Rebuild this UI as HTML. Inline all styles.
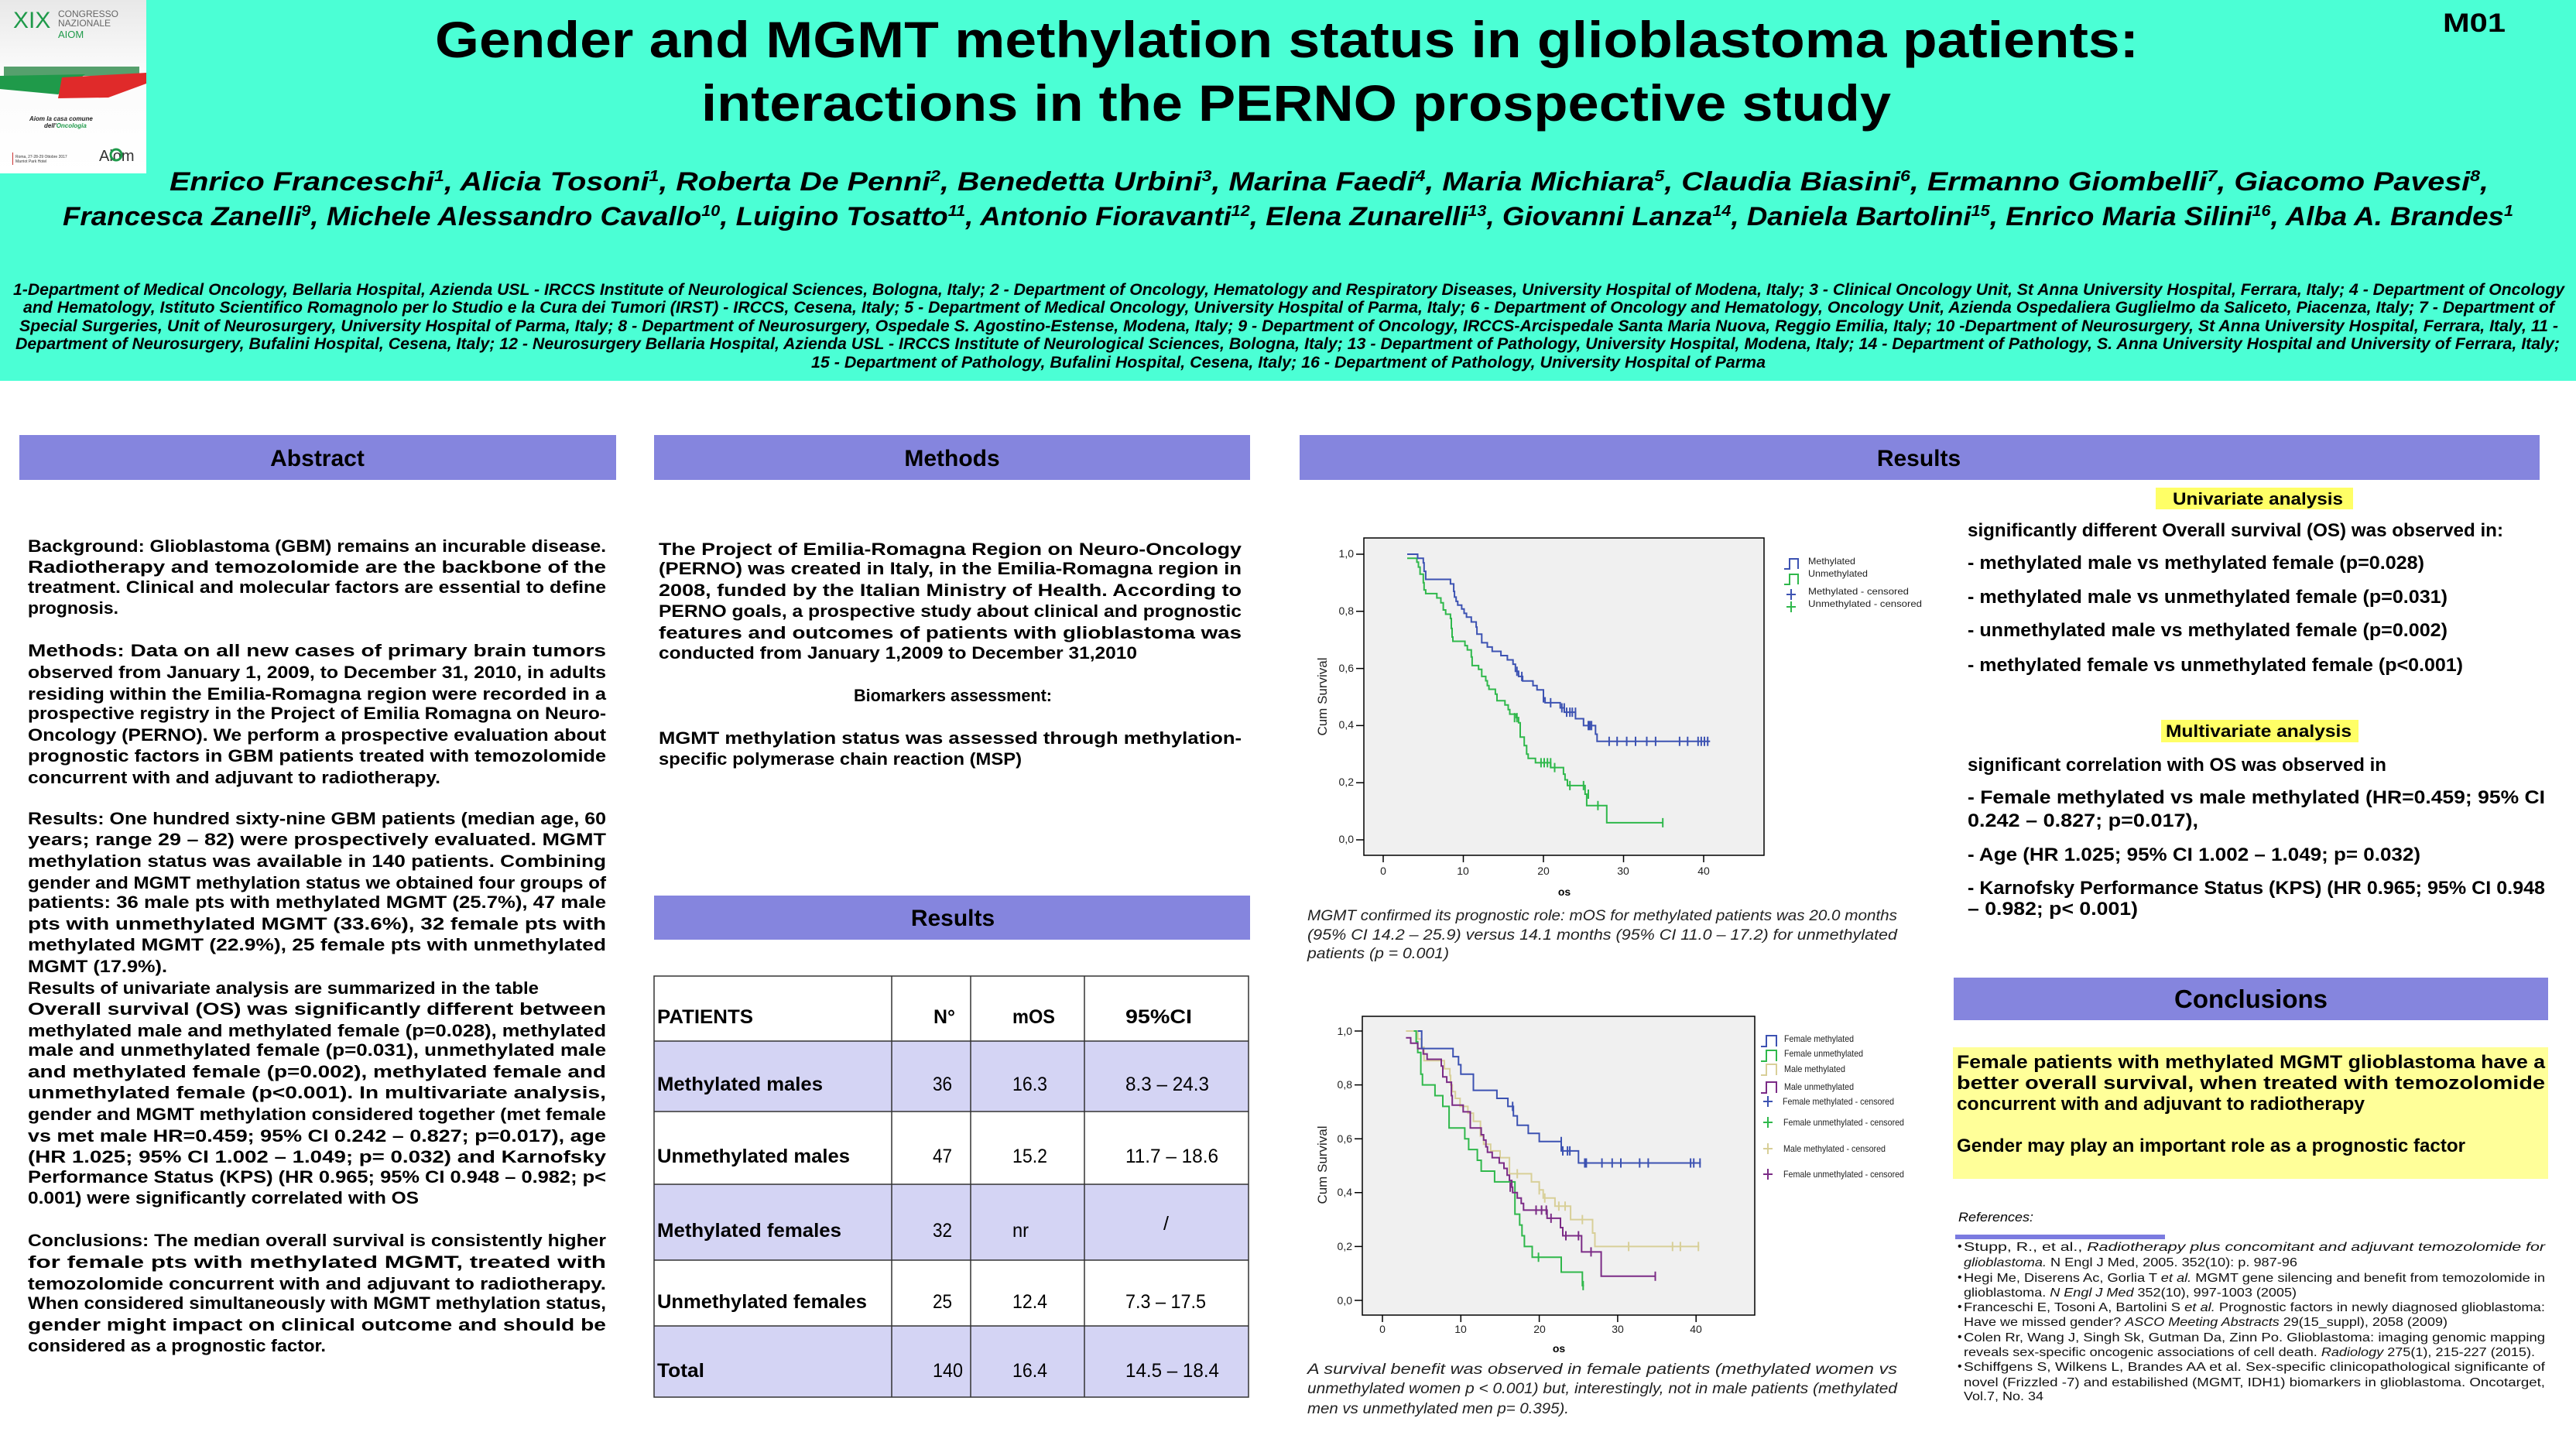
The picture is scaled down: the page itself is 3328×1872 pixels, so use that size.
<!DOCTYPE html>
<html><head><meta charset="utf-8"><style>
html,body{margin:0;padding:0;background:#fff;}
svg{display:block;}
text{font-family:"Liberation Sans",Arial,sans-serif;}
.b{font-weight:bold;}
.bi{font-weight:bold;font-style:italic;}
.ab{font-weight:bold;font-size:22px;fill:#000;}
.rc{font-weight:bold;font-size:24px;}
.cap{font-style:italic;font-size:19px;fill:#222;}
.ref{font-size:16px;fill:#111;}
.tk{font-size:14px;fill:#222;}
.lg{font-size:12px;fill:#222;}
.tb{font-weight:bold;font-size:25px;}
.tn{font-size:25px;}
</style></head><body>
<svg width="3328" height="1872" viewBox="0 0 3328 1872" xmlns="http://www.w3.org/2000/svg">
<rect x="0" y="0" width="3328" height="1872" fill="#fff"/>
<rect x="0" y="0" width="3328" height="492" fill="#4bffd5"/>

<!-- logo -->
<defs><linearGradient id="lg1" x1="0" y1="0" x2="0" y2="1"><stop offset="0" stop-color="#e8e8e8"/><stop offset="0.4" stop-color="#fbfbfb"/><stop offset="1" stop-color="#ffffff"/></linearGradient></defs>
<rect x="0" y="0" width="189" height="224" fill="url(#lg1)"/>
<text x="17" y="36" font-size="30" fill="#1f9a4a">XIX</text>
<text x="75" y="22" font-size="12" fill="#666" font-family="Liberation Serif,serif">CONGRESSO</text>
<text x="75" y="34" font-size="12" fill="#666" font-family="Liberation Serif,serif">NAZIONALE</text>
<text x="75" y="49" font-size="13" fill="#1f9a4a" font-family="Liberation Serif,serif">AIOM</text>
<rect x="5" y="86" width="175" height="12" fill="#2d8a4a" opacity="0.8"/>
<polygon points="0,98 110,96 75,122 0,115" fill="#1f9a4a"/>
<polygon points="80,100 189,94 189,108 140,126 75,127" fill="#e02a2a"/>
<text x="38" y="156" font-size="8" class="bi" fill="#222">Aiom la casa comune</text>
<text x="57" y="165" font-size="8" class="bi" fill="#222">dell'<tspan fill="#1f9a4a">Oncologia</tspan></text>
<rect x="16" y="197" width="1" height="16" fill="#c33"/>
<text x="20" y="204" font-size="5" fill="#333">Roma, 27-28-29 Ottobre 2017</text>
<text x="20" y="210" font-size="5" fill="#333">Marriot Park Hotel</text>
<text x="128" y="208" font-size="20" fill="#333" font-family="Liberation Serif,serif">Aiom</text>
<ellipse cx="150" cy="200" rx="7" ry="7" fill="none" stroke="#1f9a4a" stroke-width="3"/>

<!-- title -->
<text x="562" y="74" font-size="66" class="b" textLength="2201" lengthAdjust="spacingAndGlyphs">Gender and MGMT methylation status in glioblastoma patients:</text>
<text x="906" y="156" font-size="66" class="b" textLength="1537" lengthAdjust="spacingAndGlyphs">interactions in the PERNO prospective study</text>
<text x="3156" y="41" font-size="34" class="b" textLength="81" lengthAdjust="spacingAndGlyphs">M01</text>

<!-- authors -->
<text x="219" y="246" font-size="34" class="bi" textLength="2996" lengthAdjust="spacingAndGlyphs">Enrico Franceschi<tspan font-size="20" dy="-12">1</tspan><tspan dy="12">, Alicia Tosoni</tspan><tspan font-size="20" dy="-12">1</tspan><tspan dy="12">, Roberta De Penni</tspan><tspan font-size="20" dy="-12">2</tspan><tspan dy="12">, Benedetta Urbini</tspan><tspan font-size="20" dy="-12">3</tspan><tspan dy="12">, Marina Faedi</tspan><tspan font-size="20" dy="-12">4</tspan><tspan dy="12">, Maria Michiara</tspan><tspan font-size="20" dy="-12">5</tspan><tspan dy="12">, Claudia Biasini</tspan><tspan font-size="20" dy="-12">6</tspan><tspan dy="12">, Ermanno Giombelli</tspan><tspan font-size="20" dy="-12">7</tspan><tspan dy="12">, Giacomo Pavesi</tspan><tspan font-size="20" dy="-12">8</tspan><tspan dy="12">,</tspan></text>
<text x="81" y="291" font-size="34" class="bi" textLength="3166" lengthAdjust="spacingAndGlyphs">Francesca Zanelli<tspan font-size="20" dy="-12">9</tspan><tspan dy="12">, Michele Alessandro Cavallo</tspan><tspan font-size="20" dy="-12">10</tspan><tspan dy="12">, Luigino Tosatto</tspan><tspan font-size="20" dy="-12">11</tspan><tspan dy="12">, Antonio Fioravanti</tspan><tspan font-size="20" dy="-12">12</tspan><tspan dy="12">, Elena Zunarelli</tspan><tspan font-size="20" dy="-12">13</tspan><tspan dy="12">, Giovanni Lanza</tspan><tspan font-size="20" dy="-12">14</tspan><tspan dy="12">, Daniela Bartolini</tspan><tspan font-size="20" dy="-12">15</tspan><tspan dy="12">, Enrico Maria Silini</tspan><tspan font-size="20" dy="-12">16</tspan><tspan dy="12">,  Alba A. Brandes</tspan><tspan font-size="20" dy="-12">1</tspan></text>

<!-- affiliations -->
<g class="bi" font-size="21">
<text x="17" y="381" textLength="3296" lengthAdjust="spacingAndGlyphs">1-Department of Medical Oncology, Bellaria Hospital, Azienda USL - IRCCS Institute of Neurological Sciences, Bologna, Italy; 2 - Department of Oncology, Hematology and Respiratory Diseases, University Hospital of Modena, Italy; 3 - Clinical Oncology Unit, St Anna University Hospital, Ferrara, Italy; 4 - Department of Oncology</text>
<text x="30" y="404" textLength="3270" lengthAdjust="spacingAndGlyphs">and Hematology, Istituto Scientifico Romagnolo per lo Studio e la Cura dei Tumori (IRST) - IRCCS, Cesena, Italy; 5 - Department of Medical Oncology, University Hospital of Parma, Italy; 6 - Department of Oncology and Hematology, Oncology Unit, Azienda Ospedaliera Guglielmo da Saliceto, Piacenza, Italy; 7 - Department of</text>
<text x="25" y="428" textLength="3280" lengthAdjust="spacingAndGlyphs">Special Surgeries, Unit of Neurosurgery, University Hospital of Parma, Italy; 8 - Department of Neurosurgery, Ospedale S. Agostino-Estense, Modena, Italy; 9 - Department of Oncology, IRCCS-Arcispedale Santa Maria Nuova, Reggio Emilia, Italy; 10 -Department of Neurosurgery, St Anna University Hospital, Ferrara, Italy, 11 -</text>
<text x="20" y="451" textLength="3287" lengthAdjust="spacingAndGlyphs">Department of Neurosurgery, Bufalini Hospital, Cesena, Italy; 12 - Neurosurgery Bellaria Hospital, Azienda USL - IRCCS Institute of Neurological Sciences, Bologna, Italy; 13 - Department of Pathology, University Hospital, Modena, Italy; 14 - Department of Pathology, S. Anna University Hospital and University of Ferrara, Italy;</text>
<text x="1048" y="475" textLength="1233" lengthAdjust="spacingAndGlyphs">15 - Department of Pathology, Bufalini Hospital, Cesena, Italy; 16 - Department of Pathology, University Hospital of Parma</text>
</g>

<!-- section bars -->
<g fill="#8585de">
<rect x="25" y="562" width="771" height="58"/>
<rect x="845" y="562" width="770" height="58"/>
<rect x="1679" y="562" width="1602" height="58"/>
<rect x="845" y="1157" width="770" height="57"/>
<rect x="2524" y="1263" width="768" height="55"/>
</g>
<g class="b" font-size="30" text-anchor="middle">
<text x="410" y="602">Abstract</text>
<text x="1230" y="602">Methods</text>
<text x="2479" y="602">Results</text>
<text x="1231" y="1196">Results</text>
<text x="2908" y="1302" font-size="33">Conclusions</text>
</g>

<!-- abstract -->
<g class="ab">
<text x="36" y="713" textLength="747" lengthAdjust="spacingAndGlyphs">Background: Glioblastoma (GBM) remains an incurable disease.</text>
<text x="36" y="740" textLength="747" lengthAdjust="spacingAndGlyphs">Radiotherapy and temozolomide are the backbone of the</text>
<text x="36" y="766" textLength="747" lengthAdjust="spacingAndGlyphs">treatment. Clinical and molecular factors are essential to define</text>
<text x="36" y="793" textLength="117" lengthAdjust="spacingAndGlyphs">prognosis.</text>
<text x="36" y="848" textLength="747" lengthAdjust="spacingAndGlyphs">Methods: Data on all new cases of primary brain tumors</text>
<text x="36" y="876" textLength="747" lengthAdjust="spacingAndGlyphs">observed from January 1, 2009, to December 31, 2010, in adults</text>
<text x="36" y="904" textLength="747" lengthAdjust="spacingAndGlyphs">residing within the Emilia-Romagna region were recorded in a</text>
<text x="36" y="929" textLength="747" lengthAdjust="spacingAndGlyphs">prospective registry in the Project of Emilia Romagna on Neuro-</text>
<text x="36" y="957" textLength="747" lengthAdjust="spacingAndGlyphs">Oncology (PERNO). We perform a prospective evaluation about</text>
<text x="36" y="984" textLength="747" lengthAdjust="spacingAndGlyphs">prognostic factors in GBM patients treated with temozolomide</text>
<text x="36" y="1012" textLength="533" lengthAdjust="spacingAndGlyphs">concurrent with and adjuvant to radiotherapy.</text>
<text x="36" y="1065" textLength="747" lengthAdjust="spacingAndGlyphs">Results: One hundred sixty-nine GBM patients (median age, 60</text>
<text x="36" y="1092" textLength="747" lengthAdjust="spacingAndGlyphs">years; range 29 – 82) were prospectively evaluated. MGMT</text>
<text x="36" y="1120" textLength="747" lengthAdjust="spacingAndGlyphs">methylation status was available in 140 patients. Combining</text>
<text x="36" y="1148" textLength="747" lengthAdjust="spacingAndGlyphs">gender and MGMT methylation status we obtained four groups of</text>
<text x="36" y="1173" textLength="747" lengthAdjust="spacingAndGlyphs">patients: 36 male pts with methylated MGMT (25.7%), 47 male</text>
<text x="36" y="1201" textLength="747" lengthAdjust="spacingAndGlyphs">pts with unmethylated MGMT (33.6%), 32 female pts with</text>
<text x="36" y="1228" textLength="747" lengthAdjust="spacingAndGlyphs">methylated MGMT (22.9%), 25 female pts with unmethylated</text>
<text x="36" y="1256" textLength="180" lengthAdjust="spacingAndGlyphs">MGMT (17.9%).</text>
<text x="36" y="1284" textLength="660" lengthAdjust="spacingAndGlyphs">Results of univariate analysis are summarized in the table</text>
<text x="36" y="1311" textLength="747" lengthAdjust="spacingAndGlyphs">Overall survival (OS) was significantly different between</text>
<text x="36" y="1339" textLength="747" lengthAdjust="spacingAndGlyphs">methylated male and methylated female (p=0.028), methylated</text>
<text x="36" y="1364" textLength="747" lengthAdjust="spacingAndGlyphs">male and unmethylated female (p=0.031), unmethylated male</text>
<text x="36" y="1392" textLength="747" lengthAdjust="spacingAndGlyphs">and methylated female (p=0.002), methylated female and</text>
<text x="36" y="1419" textLength="747" lengthAdjust="spacingAndGlyphs">unmethylated female (p&lt;0.001).     In multivariate analysis,</text>
<text x="36" y="1447" textLength="747" lengthAdjust="spacingAndGlyphs">gender and MGMT methylation considered together (met female</text>
<text x="36" y="1475" textLength="747" lengthAdjust="spacingAndGlyphs">vs met male HR=0.459; 95% CI 0.242 – 0.827;  p=0.017), age</text>
<text x="36" y="1502" textLength="747" lengthAdjust="spacingAndGlyphs">(HR 1.025; 95% CI 1.002 – 1.049; p= 0.032) and Karnofsky</text>
<text x="36" y="1528" textLength="747" lengthAdjust="spacingAndGlyphs">Performance Status (KPS) (HR 0.965; 95% CI 0.948 – 0.982; p&lt;</text>
<text x="36" y="1555" textLength="505" lengthAdjust="spacingAndGlyphs">0.001) were significantly correlated with OS</text>
<text x="36" y="1610" textLength="747" lengthAdjust="spacingAndGlyphs">Conclusions: The median overall survival is consistently higher</text>
<text x="36" y="1638" textLength="747" lengthAdjust="spacingAndGlyphs">for female pts with methylated MGMT, treated with</text>
<text x="36" y="1666" textLength="747" lengthAdjust="spacingAndGlyphs">temozolomide concurrent with and adjuvant to radiotherapy.</text>
<text x="36" y="1691" textLength="747" lengthAdjust="spacingAndGlyphs">When considered simultaneously with MGMT methylation status,</text>
<text x="36" y="1719" textLength="747" lengthAdjust="spacingAndGlyphs">gender might impact on clinical outcome and should be</text>
<text x="36" y="1746" textLength="385" lengthAdjust="spacingAndGlyphs">considered as a prognostic factor.</text>
</g>

<!-- methods -->
<g class="ab">
<text x="851" y="717" textLength="753" lengthAdjust="spacingAndGlyphs">The Project of Emilia-Romagna Region on Neuro-Oncology</text>
<text x="851" y="742" textLength="753" lengthAdjust="spacingAndGlyphs">(PERNO) was created in Italy, in the Emilia-Romagna region in</text>
<text x="851" y="770" textLength="753" lengthAdjust="spacingAndGlyphs">2008, funded by the Italian Ministry of Health. According to</text>
<text x="851" y="797" textLength="753" lengthAdjust="spacingAndGlyphs">PERNO goals, a prospective study about clinical and prognostic</text>
<text x="851" y="825" textLength="753" lengthAdjust="spacingAndGlyphs">features and outcomes of patients with glioblastoma was</text>
<text x="851" y="851" textLength="618" lengthAdjust="spacingAndGlyphs">conducted from January 1,2009 to December 31,2010</text>
<text x="1231" y="906" text-anchor="middle" textLength="256" lengthAdjust="spacingAndGlyphs">Biomarkers assessment:</text>
<text x="851" y="961" textLength="753" lengthAdjust="spacingAndGlyphs">MGMT methylation status was assessed through methylation-</text>
<text x="851" y="988" textLength="469" lengthAdjust="spacingAndGlyphs">specific polymerase chain reaction (MSP)</text>
</g>

<!-- table -->
<rect x="845" y="1345" width="768" height="91" fill="#d4d4f4"/>
<rect x="845" y="1530" width="768" height="98" fill="#d4d4f4"/>
<rect x="845" y="1713" width="768" height="92" fill="#d4d4f4"/>
<g stroke="#333" stroke-width="1.5" fill="none">
<rect x="845" y="1261" width="768" height="544"/>
<line x1="845" y1="1345" x2="1613" y2="1345"/>
<line x1="845" y1="1436" x2="1613" y2="1436"/>
<line x1="845" y1="1530" x2="1613" y2="1530"/>
<line x1="845" y1="1628" x2="1613" y2="1628"/>
<line x1="845" y1="1713" x2="1613" y2="1713"/>
<line x1="1152" y1="1261" x2="1152" y2="1805"/>
<line x1="1254" y1="1261" x2="1254" y2="1805"/>
<line x1="1401" y1="1261" x2="1401" y2="1805"/>
</g>
<g>
<text class="tb" x="849" y="1322" textLength="124" lengthAdjust="spacingAndGlyphs">PATIENTS</text>
<text class="tb" x="1206" y="1322" textLength="28" lengthAdjust="spacingAndGlyphs">N°</text>
<text class="tb" x="1308" y="1322" textLength="55" lengthAdjust="spacingAndGlyphs">mOS</text>
<text class="tb" x="1454" y="1322" textLength="86" lengthAdjust="spacingAndGlyphs">95%CI</text>
<text class="tb" x="849" y="1409" textLength="214" lengthAdjust="spacingAndGlyphs">Methylated males</text>
<text class="tn" x="1205" y="1409" textLength="25" lengthAdjust="spacingAndGlyphs">36</text>
<text class="tn" x="1308" y="1409" textLength="45" lengthAdjust="spacingAndGlyphs">16.3</text>
<text class="tn" x="1454" y="1409" textLength="108" lengthAdjust="spacingAndGlyphs">8.3 – 24.3</text>
<text class="tb" x="849" y="1502" textLength="249" lengthAdjust="spacingAndGlyphs">Unmethylated males</text>
<text class="tn" x="1205" y="1502" textLength="25" lengthAdjust="spacingAndGlyphs">47</text>
<text class="tn" x="1308" y="1502" textLength="45" lengthAdjust="spacingAndGlyphs">15.2</text>
<text class="tn" x="1454" y="1502" textLength="120" lengthAdjust="spacingAndGlyphs">11.7 – 18.6</text>
<text class="tb" x="849" y="1598" textLength="238" lengthAdjust="spacingAndGlyphs">Methylated females</text>
<text class="tn" x="1205" y="1598" textLength="25" lengthAdjust="spacingAndGlyphs">32</text>
<text class="tn" x="1308" y="1598" textLength="21" lengthAdjust="spacingAndGlyphs">nr</text>
<text class="tn" x="1503" y="1589">/</text>
<text class="tb" x="849" y="1690" textLength="271" lengthAdjust="spacingAndGlyphs">Unmethylated females</text>
<text class="tn" x="1205" y="1690" textLength="25" lengthAdjust="spacingAndGlyphs">25</text>
<text class="tn" x="1308" y="1690" textLength="45" lengthAdjust="spacingAndGlyphs">12.4</text>
<text class="tn" x="1454" y="1690" textLength="104" lengthAdjust="spacingAndGlyphs">7.3 – 17.5</text>
<text class="tb" x="849" y="1779" textLength="61" lengthAdjust="spacingAndGlyphs">Total</text>
<text class="tn" x="1205" y="1779" textLength="39" lengthAdjust="spacingAndGlyphs">140</text>
<text class="tn" x="1308" y="1779" textLength="45" lengthAdjust="spacingAndGlyphs">16.4</text>
<text class="tn" x="1454" y="1779" textLength="121" lengthAdjust="spacingAndGlyphs">14.5 – 18.4</text>
</g>

<!-- chart 1 -->
<rect x="1762" y="695" width="517" height="410" fill="#f0f0f0" stroke="#000" stroke-width="1.5"/>
<g id="ax1" stroke="#000" stroke-width="1.5"></g>
<g class="tk" text-anchor="end">
<text x="1749" y="720">1,0</text><text x="1749" y="794">0,8</text><text x="1749" y="868">0,6</text><text x="1749" y="941">0,4</text><text x="1749" y="1015">0,2</text><text x="1749" y="1089">0,0</text>
</g>
<g class="tk" text-anchor="middle">
<text x="1787" y="1130">0</text><text x="1890" y="1130">10</text><text x="1994" y="1130">20</text><text x="2097" y="1130">30</text><text x="2201" y="1130">40</text>
</g>
<text x="2021" y="1157" class="b" font-size="14" text-anchor="middle">os</text>
<text transform="translate(1714,900) rotate(-90)" font-size="17" text-anchor="middle" fill="#222">Cum Survival</text>
<g id="c1"></g>
<g class="lg">
<text x="2336" y="729" textLength="61" lengthAdjust="spacingAndGlyphs">Methylated</text>
<text x="2336" y="745" textLength="77" lengthAdjust="spacingAndGlyphs">Unmethylated</text>
<text x="2336" y="768" textLength="130" lengthAdjust="spacingAndGlyphs">Methylated  - censored</text>
<text x="2336" y="784" textLength="147" lengthAdjust="spacingAndGlyphs">Unmethylated  - censored</text>
</g>
<g fill="none" stroke-width="2">
<path d="M2305,735 H2312 V722 H2323 V735" stroke="#3c52b2"/>
<path d="M2305,755 H2312 V742 H2323 V755" stroke="#2fb84b"/>
<path d="M2314,761 V775 M2308,768 H2320" stroke="#3c52b2"/>
<path d="M2314,777 V791 M2308,784 H2320" stroke="#2fb84b"/>
</g>
<g class="cap">
<text x="1689" y="1189" textLength="762" lengthAdjust="spacingAndGlyphs">MGMT confirmed its prognostic role: mOS for methylated patients was 20.0 months</text>
<text x="1689" y="1214" textLength="762" lengthAdjust="spacingAndGlyphs">(95% CI 14.2 – 25.9) versus 14.1 months (95% CI 11.0 – 17.2) for unmethylated</text>
<text x="1689" y="1238" textLength="183" lengthAdjust="spacingAndGlyphs">patients (p = 0.001)</text>
</g>

<!-- chart 2 -->
<rect x="1760" y="1313" width="507" height="386" fill="#f0f0f0" stroke="#000" stroke-width="1.5"/>
<g id="ax2" stroke="#000" stroke-width="1.5"></g>
<g class="tk" text-anchor="end">
<text x="1747" y="1337">1,0</text><text x="1747" y="1406">0,8</text><text x="1747" y="1476">0,6</text><text x="1747" y="1545">0,4</text><text x="1747" y="1615">0,2</text><text x="1747" y="1685">0,0</text>
</g>
<g class="tk" text-anchor="middle">
<text x="1786" y="1722">0</text><text x="1887" y="1722">10</text><text x="1989" y="1722">20</text><text x="2090" y="1722">30</text><text x="2191" y="1722">40</text>
</g>
<text x="2014" y="1747" class="b" font-size="14" text-anchor="middle">os</text>
<text transform="translate(1714,1505) rotate(-90)" font-size="17" text-anchor="middle" fill="#222">Cum Survival</text>
<g id="c2"></g>
<g class="lg" font-size="11">
<text x="2305" y="1346" textLength="90" lengthAdjust="spacingAndGlyphs">Female methylated</text>
<text x="2305" y="1365" textLength="102" lengthAdjust="spacingAndGlyphs">Female unmethylated</text>
<text x="2305" y="1385" textLength="79" lengthAdjust="spacingAndGlyphs">Male methylated</text>
<text x="2305" y="1408" textLength="90" lengthAdjust="spacingAndGlyphs">Male unmethylated</text>
<text x="2303" y="1427" textLength="144" lengthAdjust="spacingAndGlyphs">Female methylated - censored</text>
<text x="2304" y="1454" textLength="156" lengthAdjust="spacingAndGlyphs">Female unmethylated - censored</text>
<text x="2304" y="1488" textLength="132" lengthAdjust="spacingAndGlyphs">Male methylated - censored</text>
<text x="2304" y="1521" textLength="156" lengthAdjust="spacingAndGlyphs">Female unmethylated - censored</text>
</g>
<g fill="none" stroke-width="2">
<path d="M2275,1352 H2282 V1338 H2295 V1352" stroke="#3c52b2"/>
<path d="M2275,1371 H2282 V1357 H2295 V1371" stroke="#2fb84b"/>
<path d="M2275,1389 H2282 V1375 H2295 V1389" stroke="#d8cf98"/>
<path d="M2275,1412 H2282 V1398 H2295 V1412" stroke="#7b2b86"/>
<path d="M2284,1416 V1430 M2278,1423 H2290" stroke="#3c52b2"/>
<path d="M2284,1443 V1457 M2278,1450 H2290" stroke="#2fb84b"/>
<path d="M2284,1477 V1491 M2278,1484 H2290" stroke="#d8cf98"/>
<path d="M2284,1510 V1524 M2278,1517 H2290" stroke="#7b2b86"/>
</g>
<g class="cap">
<text x="1689" y="1775" textLength="762" lengthAdjust="spacingAndGlyphs">A survival benefit was observed in female patients (methylated women vs</text>
<text x="1689" y="1800" textLength="762" lengthAdjust="spacingAndGlyphs">unmethylated women p &lt; 0.001) but, interestingly, not in male patients (methylated</text>
<text x="1689" y="1826" textLength="338" lengthAdjust="spacingAndGlyphs">men vs unmethylated men p= 0.395).</text>
</g>

<!-- right column -->
<rect x="2785" y="630" width="255" height="28" fill="#ffff66"/>
<rect x="2792" y="930" width="255" height="29" fill="#ffff66"/>
<g class="rc">
<text x="2807" y="652" textLength="220" lengthAdjust="spacingAndGlyphs" font-size="22">Univariate analysis</text>
<text x="2542" y="693" textLength="692" lengthAdjust="spacingAndGlyphs">significantly different Overall survival (OS) was observed in:</text>
<text x="2542" y="735" textLength="590" lengthAdjust="spacingAndGlyphs">- methylated male vs methylated female (p=0.028)</text>
<text x="2542" y="779" textLength="620" lengthAdjust="spacingAndGlyphs">- methylated male vs unmethylated female (p=0.031)</text>
<text x="2542" y="822" textLength="620" lengthAdjust="spacingAndGlyphs">- unmethylated male vs methylated female (p=0.002)</text>
<text x="2542" y="867" textLength="640" lengthAdjust="spacingAndGlyphs">- methylated female vs unmethylated female (p&lt;0.001)</text>
<text x="2798" y="952" textLength="240" lengthAdjust="spacingAndGlyphs" font-size="22">Multivariate analysis</text>
<text x="2542" y="996" textLength="541" lengthAdjust="spacingAndGlyphs">significant correlation with OS was observed in</text>
<text x="2542" y="1038" textLength="746" lengthAdjust="spacingAndGlyphs">- Female methylated vs male methylated (HR=0.459; 95% CI</text>
<text x="2542" y="1068" textLength="298" lengthAdjust="spacingAndGlyphs">0.242 – 0.827;  p=0.017),</text>
<text x="2542" y="1112" textLength="585" lengthAdjust="spacingAndGlyphs">- Age (HR 1.025; 95% CI 1.002 – 1.049; p= 0.032)</text>
<text x="2542" y="1155" textLength="746" lengthAdjust="spacingAndGlyphs">- Karnofsky Performance Status (KPS) (HR 0.965; 95% CI 0.948</text>
<text x="2542" y="1182" textLength="220" lengthAdjust="spacingAndGlyphs">– 0.982; p&lt; 0.001)</text>
</g>

<rect x="2523" y="1353" width="769" height="170" fill="#ffff99"/>
<g class="rc" font-size="25">
<text x="2528" y="1380" textLength="760" lengthAdjust="spacingAndGlyphs">Female patients with methylated MGMT glioblastoma have a</text>
<text x="2528" y="1407" textLength="760" lengthAdjust="spacingAndGlyphs">better overall survival, when treated with temozolomide</text>
<text x="2528" y="1434" textLength="527" lengthAdjust="spacingAndGlyphs">concurrent with and adjuvant to radiotherapy</text>
<text x="2528" y="1488" textLength="657" lengthAdjust="spacingAndGlyphs">Gender may play an important role as a prognostic factor</text>
</g>

<text x="2530" y="1578" font-size="17" font-style="italic" textLength="97" lengthAdjust="spacingAndGlyphs">References:</text>
<rect x="2526" y="1595" width="271" height="6" fill="#7b7be0"/>
<g class="ref">
<text x="2529" y="1615">•</text><text x="2537" y="1616" textLength="751" lengthAdjust="spacingAndGlyphs">Stupp, R., et al., <tspan font-style="italic">Radiotherapy plus concomitant and adjuvant temozolomide for</tspan></text>
<text x="2537" y="1636" textLength="431" lengthAdjust="spacingAndGlyphs"><tspan font-style="italic">glioblastoma.</tspan> N Engl J Med, 2005. 352(10): p. 987-96</text>
<text x="2529" y="1655">•</text><text x="2537" y="1656" textLength="751" lengthAdjust="spacingAndGlyphs">Hegi Me, Diserens Ac, Gorlia T <tspan font-style="italic">et al.</tspan> MGMT gene silencing and benefit from temozolomide in</text>
<text x="2537" y="1675" textLength="430" lengthAdjust="spacingAndGlyphs">glioblastoma. <tspan font-style="italic">N Engl J Med</tspan> 352(10), 997-1003 (2005)</text>
<text x="2529" y="1693">•</text><text x="2537" y="1694" textLength="751" lengthAdjust="spacingAndGlyphs">Franceschi E, Tosoni A, Bartolini S <tspan font-style="italic">et al.</tspan> Prognostic factors in newly diagnosed glioblastoma:</text>
<text x="2537" y="1713" textLength="625" lengthAdjust="spacingAndGlyphs">Have we missed gender? <tspan font-style="italic">ASCO Meeting Abstracts</tspan> 29(15_suppl), 2058 (2009)</text>
<text x="2529" y="1732">•</text><text x="2537" y="1733" textLength="751" lengthAdjust="spacingAndGlyphs">Colen Rr, Wang J, Singh Sk, Gutman Da, Zinn Po. Glioblastoma: imaging genomic mapping</text>
<text x="2537" y="1752" textLength="738" lengthAdjust="spacingAndGlyphs">reveals sex-specific oncogenic associations of cell death. <tspan font-style="italic">Radiology</tspan> 275(1), 215-227 (2015).</text>
<text x="2529" y="1770">•</text><text x="2537" y="1771" textLength="751" lengthAdjust="spacingAndGlyphs">Schiffgens S, Wilkens L, Brandes AA et al. Sex-specific clinicopathological significante of</text>
<text x="2537" y="1791" textLength="751" lengthAdjust="spacingAndGlyphs">novel (Frizzled -7) and estabilished (MGMT, IDH1) biomarkers in glioblastoma. Oncotarget,</text>
<text x="2537" y="1809" textLength="103" lengthAdjust="spacingAndGlyphs">Vol.7, No. 34</text>
</g>
</svg>
<script>
(function(){
var NS="http://www.w3.org/2000/svg";
function el(p,tag,attrs){var e=document.createElementNS(NS,tag);for(var k in attrs)e.setAttribute(k,attrs[k]);p.appendChild(e);return e;}
function chart(gid,axid,x0,sx,y0,sy,box,series){
  var g=document.getElementById(gid),ax=document.getElementById(axid);
  var d="";
  [0,.2,.4,.6,.8,1].forEach(function(v){var y=y0-v*sy;d+="M"+(box.l-10)+","+y+"H"+box.l;});
  [0,10,20,30,40].forEach(function(t){var x=x0+t*sx;d+="M"+x+","+box.b+"V"+(box.b+9);});
  el(ax,"path",{d:d});
  series.forEach(function(s){
    var p=s.pts,X=function(t){return (x0+t*sx).toFixed(1)},Y=function(v){return (y0-v*sy).toFixed(1)};
    var dd="M"+X(p[0][0])+","+Y(p[0][1]);
    for(var i=1;i<p.length;i++){dd+="H"+X(p[i][0])+"V"+Y(p[i][1]);}
    dd+="H"+X(s.end);
    el(g,"path",{d:dd,fill:"none",stroke:s.c,"stroke-width":2});
    var cd="";
    s.cens.forEach(function(c){var x=+X(c[0]),y=+Y(c[1]);cd+="M"+x+","+(y-6)+"V"+(y+6);});
    el(g,"path",{d:cd,fill:"none",stroke:s.c,"stroke-width":2});
  });
}
var B="#3c52b2",G="#2fb84b",Be="#d8cf98",P="#7b2b86";
chart("c1","ax1",1787,10.35,1085,369,{l:1762,b:1105},[
 {c:G,end:34.9,pts:[[3,.986],[4.2,.972],[4.4,.955],[4.6,.93],[5,.9],[5.1,.875],[5.3,.862],[6.7,.847],[7.2,.83],[7.5,.805],[7.8,.79],[8.4,.775],[8.5,.74],[8.6,.71],[8.7,.695],[10.2,.68],[10.5,.665],[11,.64],[11.1,.61],[11.9,.597],[12.3,.572],[12.8,.557],[13,.54],[13.2,.527],[14,.51],[14.2,.487],[15.2,.472],[15.6,.456],[15.8,.44],[16.6,.428],[16.9,.41],[17.1,.36],[17.6,.33],[17.9,.3],[18.1,.285],[19,.27],[20.9,.253],[22.5,.23],[22.7,.21],[23,.19],[25.2,.16],[25.4,.12],[27.9,.06]],
  cens:[[16.4,.428],[16.7,.428],[19.7,.27],[20.1,.27],[20.5,.27],[20.9,.27],[21.4,.253],[23.3,.19],[25,.19],[25.6,.16],[26.8,.12],[34.9,.06]]},
 {c:B,end:40.8,pts:[[3,1],[4.3,.986],[5,.97],[5.1,.94],[5.3,.912],[8.4,.896],[8.8,.87],[8.9,.85],[9.1,.835],[9.3,.822],[9.8,.808],[10.1,.793],[10.4,.78],[11,.763],[11.6,.745],[11.7,.72],[12.3,.69],[13,.675],[13.6,.66],[14.7,.645],[15.5,.63],[16.2,.615],[16.5,.59],[16.9,.572],[17.4,.556],[18.7,.54],[19.2,.525],[20,.497],[20.2,.48],[22.1,.462],[22.6,.447],[24,.424],[25,.40],[26.5,.37],[26.7,.345]],
  cens:[[16.7,.59],[17.3,.572],[20,.497],[20.9,.48],[22.3,.462],[22.6,.462],[22.9,.447],[23.3,.447],[23.6,.447],[24,.447],[25.6,.40],[25.8,.40],[26,.40],[28.2,.345],[29.2,.345],[30.4,.345],[31.5,.345],[32.9,.345],[34,.345],[37,.345],[38,.345],[39.3,.345],[39.7,.345],[40.1,.345],[40.5,.345]]}
]);
chart("c2","ax2",1786,10.13,1680,348,{l:1760,b:1699},[
 {c:Be,end:40.4,pts:[[3,1],[4.5,.97],[5,.94],[5.3,.89],[7.9,.86],[8.6,.835],[8.7,.8],[8.9,.775],[9.3,.75],[9.9,.72],[10.9,.695],[11.6,.665],[12.5,.61],[12.9,.58],[13.8,.555],[15,.53],[16.2,.47],[19,.44],[20,.41],[20.5,.38],[22,.35],[24,.30],[26.8,.25],[27.1,.2]],
  cens:[[17.2,.47],[20,.41],[20.7,.38],[22.5,.35],[23.3,.35],[25.5,.30],[31.4,.2],[37,.2],[38,.2],[40.3,.2]]},
 {c:G,end:25.7,pts:[[4,1],[4.3,.96],[4.5,.92],[4.9,.84],[5.1,.8],[6.7,.76],[7.7,.72],[8.5,.64],[10.5,.6],[11,.56],[12.1,.52],[12.6,.48],[14.3,.44],[16.9,.32],[17.5,.28],[17.8,.24],[18.1,.2],[19.1,.16],[22.8,.105],[25.5,.055]],
  cens:[[19.9,.16],[25.6,.055]]},
 {c:P,end:34.8,pts:[[3,.975],[3.6,.955],[4.5,.935],[5.2,.915],[5.7,.895],[7.5,.87],[7.7,.83],[8.2,.81],[8.8,.76],[8.9,.725],[10.3,.70],[11.2,.64],[12.6,.615],[12.9,.595],[13.2,.57],[13.4,.55],[14,.53],[14.9,.51],[15.5,.49],[15.9,.465],[16.2,.445],[16.5,.42],[16.6,.40],[17.2,.38],[17.7,.36],[18,.335],[21,.305],[22.7,.27],[23,.24],[25.4,.18],[27.9,.09]],
  cens:[[16.3,.42],[19.6,.335],[20.3,.335],[20.9,.335],[21.5,.305],[23.4,.24],[25,.24],[26.6,.18],[34.8,.09]]},
 {c:B,end:40.6,pts:[[4.5,1],[5,.935],[9,.905],[9.7,.875],[10,.84],[11.6,.78],[14.6,.75],[16,.72],[16.7,.685],[17.2,.65],[18.6,.62],[20,.59],[22.8,.555],[25,.51]],
  cens:[[16.6,.72],[22.8,.59],[23,.555],[23.6,.555],[23.9,.555],[25.8,.51],[26,.51],[28,.51],[29.3,.51],[30.4,.51],[32.8,.51],[33.9,.51],[39.3,.51],[39.7,.51],[40.5,.51]]}
]);
})();
</script>
</body></html>
